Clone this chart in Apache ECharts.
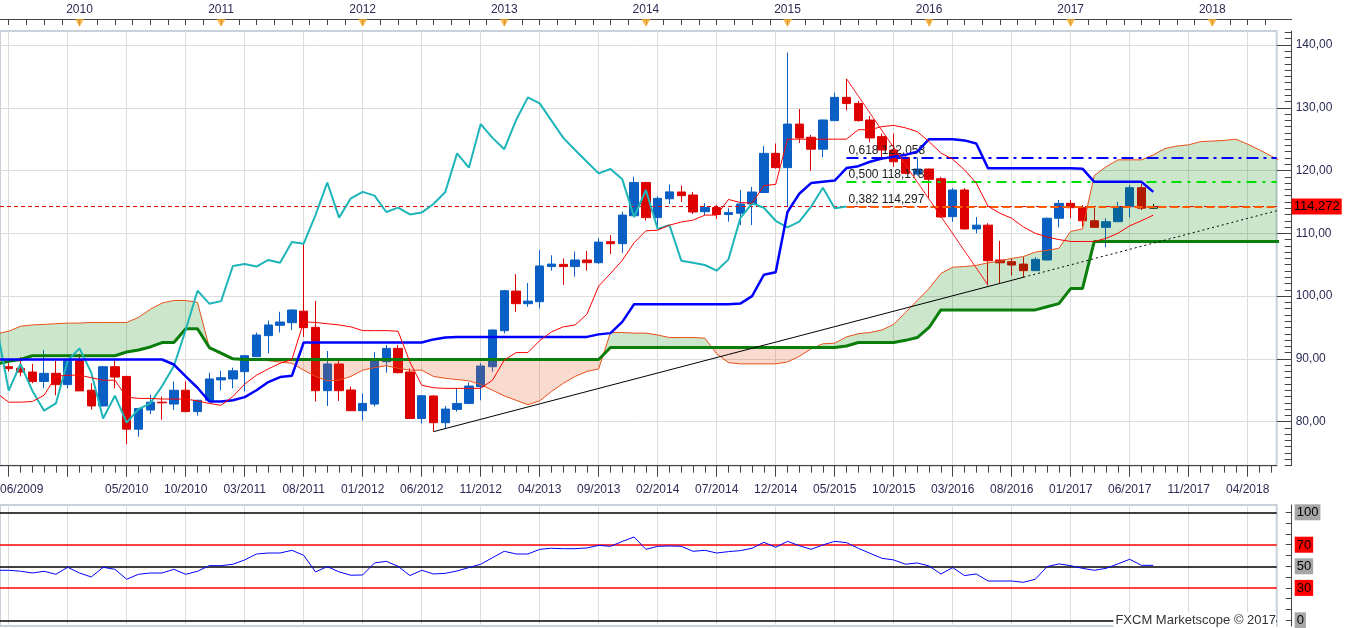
<!DOCTYPE html>
<html>
<head>
<meta charset="utf-8">
<script src="https://cdn.jsdelivr.net/npm/echarts@6/dist/echarts.min.js"></script>
<style>
html,body{margin:0;padding:0;background:#fff;}
#chart{width:1349px;height:628px;}
</style>
</head>
<body>
<div id="chart"></div>
<script>
// month index: 0 = 01/2009
var candleStart = 6; // 07/2009
var opens = [
    88.75, 88.5, 87.9, 86.4, 87.7, 85.9, 89.7, 85.0, 82.5, 88.75,
    87.2, 78.8, 81.85, 83.1, 82.8, 85.0, 81.6, 83.4, 86.65, 86.8,
    87.96, 90.35, 93.7, 95.34, 95.76, 97.6, 95.02, 84.93, 89.18, 85.04,
    81.74, 82.8, 89.55, 91.67, 87.9, 80.5, 84.08, 79.83, 81.95, 82.9,
    85.57, 88.75, 94.49, 100.8, 98.79, 99.1, 104.7, 105.05, 104.7, 105.75,
    105.32, 108.67, 108.35, 112.8, 118.1, 112.5, 115.5, 116.58, 116.1, 113.45,
    114.1, 113.0, 113.2, 114.67, 116.5, 122.74, 120.46, 127.4, 125.3, 123.4,
    127.95, 131.66, 130.7, 128.05, 125.4, 123.27, 122.1, 119.45, 120.24, 118.7,
    112.65, 116.9, 110.7, 111.3, 105.75, 105.48, 105.1, 104.05, 105.75, 112.4,
    114.77, 114.08, 112.0, 110.95, 111.85, 114.24, 117.27, 114.0
];
var closes = [
    88.45, 87.9, 86.4, 87.7, 85.9, 89.7, 84.9, 82.5, 88.75, 87.1,
    78.8, 82.1, 83.1, 83.0, 85.0, 81.6, 83.4, 86.8, 87.0, 88.1,
    90.5, 93.8, 95.4, 95.87, 97.78, 94.97, 84.93, 89.18, 84.93, 81.74,
    82.9, 89.71, 91.67, 87.8, 80.5, 84.13, 79.83, 82.0, 82.9, 85.67,
    88.86, 94.6, 100.86, 98.79, 99.2, 104.8, 105.1, 104.7, 105.75, 105.32,
    108.6, 108.35, 112.9, 118.1, 112.5, 115.57, 116.6, 116.0, 113.4, 114.1,
    113.0, 113.3, 114.67, 116.58, 122.74, 120.46, 127.4, 125.2, 123.4, 128.05,
    131.66, 130.7, 127.95, 125.2, 123.27, 121.4, 119.55, 120.24, 118.6, 112.6,
    116.9, 110.7, 111.3, 105.64, 105.3, 104.95, 104.05, 105.85, 112.4, 114.77,
    114.08, 112.0, 110.95, 111.85, 114.24, 117.27, 114.0, 114.27
];
var lows = [
    88.0, 87.2, 86.1, 85.3, 84.2, 85.3, 84.9, 81.9, 82.4, 85.3,
    76.4, 77.6, 81.2, 80.3, 81.85, 81.5, 80.95, 83.4, 85.0, 85.3,
    84.8, 90.3, 90.9, 94.2, 94.6, 93.5, 83.2, 82.5, 83.3, 81.7,
    80.15, 82.4, 87.8, 87.7, 80.5, 79.7, 78.4, 78.9, 81.6, 82.8,
    83.4, 87.96, 94.06, 97.5, 98.3, 98.05, 104.05, 101.8, 103.1, 104.05,
    105.1, 106.7, 106.9, 112.8, 112.0, 111.06, 114.67, 115.0, 113.08, 112.9,
    112.3, 111.85, 111.3, 111.3, 116.4, 120.3, 114.14, 124.4, 119.98, 122.1,
    127.9, 129.6, 127.8, 124.5, 121.9, 120.6, 119.4, 119.2, 115.6, 112.5,
    111.85, 110.6, 110.0, 101.7, 102.0, 103.25, 103.0, 104.0, 105.7, 110.95,
    112.4, 111.06, 110.9, 107.76, 111.8, 112.5, 113.7, 113.9
];
var highs = [
    89.3, 90.3, 89.2, 91.4, 89.7, 89.9, 90.8, 86.1, 88.9, 89.7,
    87.3, 82.2, 84.3, 84.0, 86.4, 86.4, 83.5, 87.8, 88.1, 88.6,
    90.6, 94.2, 96.1, 97.5, 97.9, 108.4, 99.2, 91.25, 89.7, 85.6,
    84.5, 91.1, 92.2, 92.2, 88.5, 84.2, 84.24, 82.5, 85.3, 86.25,
    89.3, 94.7, 101.0, 103.5, 102.1, 107.3, 106.5, 106.0, 107.1, 107.2,
    109.2, 109.7, 113.45, 119.0, 118.2, 115.9, 117.8, 117.6, 116.6, 114.8,
    114.5, 114.0, 116.9, 117.4, 123.9, 124.3, 138.8, 129.8, 125.66, 128.1,
    132.4, 134.6, 131.1, 128.7, 125.9, 125.9, 122.5, 122.1, 120.3, 119.0,
    117.2, 117.2, 112.6, 111.6, 108.8, 106.0, 106.2, 106.2, 112.5, 115.3,
    115.3, 114.5, 114.1, 112.4, 115.0, 117.7, 117.9, 114.7
];

var lineStart = 5; // 06/2009
var tenkan = [
    84.5, 83.1, 83.1, 83.2, 84.2, 87.2, 87.4, 87.4, 87.0, 86.6,
    86.6, 83.9, 83.7, 83.7, 83.6, 83.6, 83.6, 83.3, 82.9, 82.6,
    84.0, 86.0, 87.4, 88.4, 89.3, 89.9, 95.9, 95.8, 95.6, 95.4,
    95.1, 94.5, 94.5, 94.5, 94.4, 89.5, 85.8, 85.4, 85.3, 85.3,
    85.3, 85.3, 86.6, 89.8, 91.0, 91.0, 92.9, 94.3, 95.1, 95.4,
    97.1, 101.6, 103.6, 105.7, 108.5, 110.4, 110.5, 111.3, 111.8, 112.1,
    112.9, 112.9, 115.4, 114.9, 114.8, 117.6, 117.8, 125.0, 125.0, 125.0,
    125.0, 125.0, 125.0, 126.5, 126.5, 127.0, 127.2, 126.8, 126.2, 124.6,
    122.8, 121.8, 120.1, 118.0, 114.3, 113.2, 112.4, 111.0, 110.0, 109.4,
    109.0, 108.7, 108.7, 108.7, 109.2, 110.0, 111.2, 112.0, 112.9
];
var kijun = [
    89.9, 89.9, 89.9, 89.9, 89.9, 89.9, 89.9, 89.9, 89.9, 89.9,
    89.9, 89.9, 89.9, 89.9, 89.9, 89.1, 87.2, 85.4, 83.2, 83.2,
    83.4, 83.9, 85.0, 86.3, 87.1, 87.3, 92.6, 92.6, 92.6, 92.6,
    92.6, 92.6, 92.6, 92.6, 92.6, 92.6, 92.6, 93.1, 93.4, 93.5,
    93.5, 93.5, 93.5, 93.5, 93.5, 93.5, 93.5, 93.5, 93.5, 93.5,
    93.5, 93.9, 94.1, 95.9, 98.7, 98.7, 98.7, 98.7, 98.7, 98.7,
    98.7, 98.7, 98.7, 98.8, 100.0, 103.4, 103.8, 113.4, 116.3, 118.0,
    118.2, 118.4, 120.4, 120.7, 121.4, 121.9, 122.2, 122.5, 123.0, 125.0,
    125.0, 125.0, 124.8, 124.3, 120.35, 120.35, 120.35, 120.35, 120.35, 120.35,
    120.35, 120.35, 120.3, 118.2, 118.2, 118.2, 118.2, 118.2, 116.6
];
var chikou = [
    94.97, 84.93, 89.18, 84.93, 81.74, 82.9, 89.71, 91.67, 87.8, 80.5,
    84.13, 79.83, 82.0, 82.9, 85.67, 88.86, 94.6, 100.86, 98.79, 99.2,
    104.8, 105.1, 104.7, 105.75, 105.32, 108.6, 108.35, 112.9, 118.1, 112.5,
    115.57, 116.6, 116.0, 113.4, 114.1, 113.0, 113.3, 114.67, 116.58, 122.74,
    120.46, 127.4, 125.2, 123.4, 128.05, 131.66, 130.7, 127.95, 125.2, 123.27,
    121.4, 119.55, 120.24, 118.6, 112.6, 116.9, 110.7, 111.3, 105.64, 105.3,
    104.95, 104.05, 105.85, 112.4, 114.77, 114.08, 112.0, 110.95, 111.85, 114.24,
    117.27, 114.0, 114.27
];
var spanA = [
    94.0, 94.4, 95.2, 95.4, 95.5, 95.6, 95.7, 95.7, 95.8, 95.8,
    95.8, 95.8, 96.6, 97.9, 98.9, 99.3, 99.3, 99.0, 91.8, 90.7,
    89.9, 89.9, 89.9, 89.7, 89.5, 89.3, 88.2, 87.2, 86.5, 86.6,
    87.2, 88.2, 88.6, 88.9, 88.5, 88.2, 88.2, 87.2, 86.9, 86.7,
    86.5, 85.9, 85.0, 84.1, 83.4, 82.7, 83.3, 84.8, 86.1, 87.2,
    88.0, 88.4, 94.2, 94.2, 94.1, 94.1, 93.8, 93.4, 93.4, 93.4,
    93.3, 90.8, 89.4, 89.2, 89.2, 89.2, 89.2, 89.5, 90.4, 91.6,
    92.4, 92.5, 93.5, 94.0, 94.2, 94.6, 95.5, 97.4, 99.3, 101.2,
    103.6, 104.6, 104.7, 104.9, 105.3, 105.6, 106.0, 106.3, 107.0, 107.3,
    107.6, 110.3, 110.7, 119.2, 120.6, 121.7, 121.7, 121.7, 122.5, 123.5,
    123.9, 124.1, 124.6, 124.7, 124.8, 125.0, 124.2, 123.3, 122.3, 121.3
];
var spanB = [
    89.2, 89.6, 89.9, 90.5, 90.5, 90.5, 90.5, 90.5, 90.5, 90.5,
    90.5, 91.1, 91.4, 91.9, 92.6, 92.6, 94.8, 94.8, 91.8, 90.9,
    90.0, 89.9, 89.9, 89.9, 89.9, 89.9, 89.9, 89.9, 89.9, 89.9,
    89.9, 89.9, 89.9, 89.9, 89.9, 89.9, 89.9, 89.9, 89.9, 89.9,
    89.9, 89.9, 89.9, 89.9, 89.9, 89.9, 89.9, 89.9, 89.9, 89.9,
    89.9, 89.9, 91.8, 91.8, 91.8, 91.8, 91.8, 91.8, 91.8, 91.8,
    91.8, 91.8, 91.8, 91.8, 91.8, 91.8, 91.8, 91.8, 91.8, 91.8,
    91.8, 91.8, 92.05, 92.6, 92.6, 92.6, 92.6, 92.95, 93.4, 95.0,
    97.8, 97.8, 97.8, 97.8, 97.8, 97.8, 97.8, 97.8, 97.8, 98.3,
    98.8, 101.2, 101.2, 108.7, 108.7, 108.7, 108.7, 108.7, 108.7, 108.7,
    108.7, 108.7, 108.7, 108.7, 108.7, 108.7, 108.7, 108.7, 108.7, 108.7
];
var rsi = [
    46.3, 46.3, 45.5, 43.8, 45.4, 42.6, 49.1, 43.8, 40.1, 49.1,
    47.2, 38.0, 42.6, 43.8, 43.8, 47.2, 42.6, 45.4, 50.6, 50.6,
    51.9, 55.9, 61.4, 62.3, 62.3, 64.8, 60.2, 44.8, 49.7, 44.8,
    41.7, 42.0, 53.1, 54.6, 50.0, 41.4, 46.3, 42.9, 43.5, 45.7,
    48.8, 51.9, 58.0, 63.9, 61.4, 61.4, 65.7, 66.7, 66.3, 66.3,
    67.0, 69.4, 68.5, 73.0, 77.2, 65.7, 68.5, 68.8, 68.5, 63.9,
    64.8, 62.3, 63.6, 64.5, 66.7, 72.2, 67.6, 73.1, 69.1, 65.7,
    69.8, 73.1, 71.9, 66.7, 62.0, 57.4, 55.9, 51.9, 53.1, 50.3,
    42.9, 48.8, 41.4, 42.9, 36.4, 36.4, 36.4, 35.2, 38.0, 49.7,
    52.2, 50.6, 48.1, 46.3, 48.1, 52.2, 56.5, 50.9, 50.9
];

var trendSolid = [[42, 78.4], [92, 103.0]];
var trendDotted = [[92, 103.0], [113.46, 113.6]];
var fibSwing = [[77, 134.62], [89, 101.735]];
var fibLevels = ['0,618', '0,500', '0,382'];
var fibPrices = [122.058, 118.178, 114.297];
var lastPrice = 114.272;

var xLabels = ['06/2009', '05/2010', '10/2010', '03/2011', '08/2011', '01/2012', '06/2012',
    '11/2012', '04/2013', '09/2013', '02/2014', '07/2014', '12/2014', '05/2015', '10/2015',
    '03/2016', '08/2016', '01/2017', '06/2017', '11/2017', '04/2018'];
var yearLabels = ['2010', '2011', '2012', '2013', '2014', '2015', '2016', '2017', '2018'];
var priceTicks = [80, 90, 100, 110, 120, 130, 140];
var rsiTicks = [0, 30, 50, 70, 100];

var xMin = 5.263, xMax = 113.46;
var yMin = 72.98, yMax = 142.23;
var FONT = 'Liberation Sans';
var AX = '#444';
var LBL = '#2b2b55';

function monthOf(label) {
    var p = label.split('/');
    return (parseInt(p[1], 10) - 2009) * 12 + parseInt(p[0], 10) - 1;
}
function comma(v, d) { return v.toFixed(d).replace('.', ','); }

var labelVals = xLabels.map(monthOf);
labelVals[0] = xMin; // first label sits on the left edge
var gridMonths = [], monthTicks = [], topTicks = [], minorPrice = [], rsiMinor = [];
for (var m = 6; m <= xMax; m += 5) gridMonths.push(m);
for (var m2 = 6; m2 <= xMax; m2++) monthTicks.push(m2);
for (var m3 = 6; m3 <= xMax; m3 += 1.5) topTicks.push(m3);
for (var p = 73; p <= 142; p++) minorPrice.push(p);
for (var r = 0; r <= 100; r += 10) rsiMinor.push(r);
var yearVals = yearLabels.map(function (y) { return (parseInt(y, 10) - 2009) * 12; });

var candleData = opens.map(function (o, i) {
    var item = { value: [candleStart + i, o, closes[i], lows[i], highs[i]] };
    if (i === opens.length - 1) {
        item.itemStyle = { color: '#fff', color0: '#fff', borderColor: '#000', borderColor0: '#000' };
    }
    return item;
});

function pts(arr, start) {
    return arr.map(function (v, i) { return [start + i, v]; });
}
function line(arr, start, color, width, z, type) {
    return {
        type: 'line', data: pts(arr, start), showSymbol: false, symbol: 'none', silent: true,
        lineStyle: { color: color, width: width, type: type || 'solid' }, z: z
    };
}

// cloud regions between span A and span B, split where they cross
function cloudRegions() {
    var regions = [], top = [], bot = [], sgn = 0;
    for (var i = 0; i < spanA.length; i++) {
        var t = lineStart + i, a = spanA[i], b = spanB[i], d = a - b;
        var s = d > 0 ? 1 : (d < 0 ? -1 : 0);
        if (i > 0 && s !== 0 && sgn !== 0 && s !== sgn) {
            var pa = spanA[i - 1], pd = pa - spanB[i - 1];
            var f = pd / (pd - d);
            var c = [t - 1 + f, pa + f * (a - pa)];
            top.push(c); bot.push(c);
            regions.push({ sign: sgn, top: top, bot: bot });
            top = [c]; bot = [c];
        }
        top.push([t, a]); bot.push([t, b]);
        if (s !== 0) sgn = s;
    }
    regions.push({ sign: sgn, top: top, bot: bot });
    return regions;
}
var regions = cloudRegions();

var levelColors = { 0: '#000', 30: '#ff0000', 50: '#000', 70: '#ff0000', 100: '#000' };
var fibColors = ['#0000ff', '#00e000', '#ff5a00'];
var fibDash = [[12, 5, 3, 5], [10, 6, 3, 6], [8, 4]];

var option = {
    animation: false,
    backgroundColor: '#fff',
    textStyle: { fontFamily: FONT },
    grid: [
        { left: 0, right: 72.3, top: 31, height: 434.7, show: true, borderColor: '#c8d1da', borderWidth: 2, backgroundColor: 'transparent', outerBoundsMode: 'none' },
        { left: 0, right: 72.3, top: 505, height: 121, show: true, borderColor: '#c8d1da', borderWidth: 2, backgroundColor: 'transparent', outerBoundsMode: 'none' }
    ],
    xAxis: [
        {
            type: 'value', gridIndex: 0, min: xMin, max: xMax, position: 'bottom',
            axisLine: { onZero: false, lineStyle: { color: AX } },
            axisTick: { customValues: gridMonths, length: 11, lineStyle: { color: AX } },
            axisLabel: {
                customValues: labelVals, alignMinLabel: 'left', margin: 18, hideOverlap: false,
                color: LBL, fontSize: 12, fontFamily: FONT,
                formatter: function (v) {
                    for (var i = 0; i < labelVals.length; i++) {
                        if (Math.abs(labelVals[i] - v) < 1e-6) return xLabels[i];
                    }
                    return '';
                }
            },
            splitLine: { show: true, lineStyle: { color: '#dcdcdc', width: 1 } }
        },
        {
            type: 'value', gridIndex: 0, min: xMin, max: xMax, position: 'bottom',
            axisLine: { show: false, onZero: false },
            axisTick: { customValues: monthTicks, length: 7, lineStyle: { color: AX } },
            axisLabel: { show: false }, splitLine: { show: false }
        },
        {
            type: 'value', gridIndex: 0, min: xMin, max: xMax, position: 'top', offset: 12,
            axisLine: { onZero: false, lineStyle: { color: AX } },
            axisTick: { customValues: topTicks, inside: true, length: 6, lineStyle: { color: AX } },
            axisLabel: {
                customValues: yearVals, margin: 3, color: LBL, fontSize: 12, fontFamily: FONT,
                formatter: function (v) { return yearLabels[yearVals.indexOf(Math.round(v))] || ''; }
            },
            splitLine: { show: false }
        },
        {
            type: 'value', gridIndex: 1, min: xMin, max: xMax,
            axisLine: { show: false, onZero: false },
            axisTick: { show: false, customValues: gridMonths },
            axisLabel: { show: false },
            splitLine: { show: true, lineStyle: { color: '#dcdcdc', width: 1 } }
        }
    ],
    yAxis: [
        {
            type: 'value', gridIndex: 0, position: 'right', offset: 15, min: yMin, max: yMax,
            axisLine: { show: true, onZero: false, lineStyle: { color: AX } },
            axisTick: { customValues: priceTicks, inside: true, length: 15, lineStyle: { color: AX } },
            axisLabel: {
                customValues: priceTicks, margin: 4, color: LBL, fontSize: 12, fontFamily: FONT,
                formatter: function (v) { return comma(v, 2); }
            },
            splitLine: { show: true, lineStyle: { color: '#dcdcdc', width: 1 } }
        },
        {
            type: 'value', gridIndex: 0, position: 'right', offset: 15, min: yMin, max: yMax,
            axisLine: { show: false, onZero: false },
            axisTick: { customValues: minorPrice, inside: true, length: 7, lineStyle: { color: AX } },
            axisLabel: { show: false }, splitLine: { show: false }
        },
        {
            type: 'value', gridIndex: 1, position: 'right', offset: 15, min: -5.28, max: 106.76,
            axisLine: { show: true, onZero: false, lineStyle: { color: AX } },
            axisTick: { customValues: rsiMinor, inside: true, length: 6, lineStyle: { color: AX } },
            axisLabel: {
                customValues: rsiTicks, margin: 3,
                formatter: function (v) {
                    return '{' + (v === 30 || v === 70 ? 'r' : 'g') + '|' + v + '}';
                },
                rich: {
                    g: { backgroundColor: '#a6a6a6', color: '#000', fontSize: 13, fontFamily: FONT, padding: [2, 2, 1, 2] },
                    r: { backgroundColor: '#ff0000', color: '#000', fontSize: 13, fontFamily: FONT, padding: [2, 2, 1, 2] }
                }
            },
            splitLine: { show: false }
        }
    ],
    graphic: [
        {
            type: 'line', z: 50, silent: true,
            shape: { x1: 1276, y1: 19.5, x2: 1292, y2: 19.5 },
            style: { stroke: AX, lineWidth: 1 }
        },
        {
            type: 'text', x: 1276, y: 620, z: 100,
            style: {
                text: 'FXCM Marketscope © 2017', align: 'right', verticalAlign: 'middle',
                fill: '#333', font: '13px "Liberation Sans"', backgroundColor: '#fff', padding: [1, 0, 1, 2]
            }
        }
    ],
    series: [
        {
            type: 'candlestick', xAxisIndex: 0, yAxisIndex: 0, data: candleData, barWidth: 9, z: 2,
            itemStyle: { color: '#0a5fc4', color0: '#dd0000', borderColor: '#0a5fc4', borderColor0: '#dd0000', borderWidth: 1 },
            silent: true,
            markLine: {
                symbol: ['none', 'none'], silent: true, animation: false,
                data: [{
                    yAxis: lastPrice,
                    lineStyle: { color: '#e00000', type: [4, 3], width: 1 },
                    label: {
                        show: true, position: 'end', distance: 15, formatter: comma(lastPrice, 3),
                        backgroundColor: '#ff0000', color: '#000', fontSize: 13, fontFamily: FONT, padding: [2, 2, 1, 2]
                    }
                }]
            }
        },
        {
            type: 'custom', xAxisIndex: 0, yAxisIndex: 0, z: 3, silent: true, clip: true,
            data: [[10, 90]],
            renderItem: function (params, api) {
                var children = regions.map(function (rg) {
                    var poly = rg.top.map(function (q) { return api.coord(q); })
                        .concat(rg.bot.slice().reverse().map(function (q) { return api.coord(q); }));
                    return {
                        type: 'polygon', shape: { points: poly },
                        style: { fill: rg.sign >= 0 ? 'rgba(0,128,0,0.2)' : 'rgba(225,85,30,0.22)', stroke: null }
                    };
                });
                return { type: 'group', children: children };
            }
        },
        line(spanA, lineStart, '#e8501a', 1, 4),
        line(spanB, lineStart, '#0a7d0a', 3, 4),
        line(chikou, lineStart, '#1db5b8', 2, 5),
        line(kijun, lineStart, '#0000ff', 2.5, 6),
        line(tenkan, lineStart, '#ff0000', 1, 6),
        {
            type: 'line', data: trendSolid, showSymbol: false, symbol: 'none', silent: true, z: 6,
            lineStyle: { color: '#000', width: 1 }
        },
        {
            type: 'line', data: trendDotted, showSymbol: false, symbol: 'none', silent: true, z: 6,
            lineStyle: { color: '#000', width: 1, type: [2, 3] }
        },
        {
            type: 'line', data: fibSwing, showSymbol: false, symbol: 'none', silent: true, z: 6,
            lineStyle: { color: '#ff1a1a', width: 1 },
            markLine: {
                symbol: ['none', 'none'], silent: true, animation: false,
                data: fibPrices.map(function (fp, i) {
                    return [{
                        coord: [fibSwing[0][0], fp],
                        lineStyle: { color: fibColors[i], type: fibDash[i], width: 2 },
                        label: {
                            show: true, position: 'insideStartTop', distance: [2, 1],
                            formatter: fibLevels[i] + ' ' + comma(fp, 3),
                            color: '#222', fontSize: 12, fontFamily: FONT
                        }
                    }, { coord: [xMax, fp] }];
                })
            }
        },
        {
            type: 'scatter', xAxisIndex: 0, yAxisIndex: 0, clip: false, silent: true, z: 10,
            symbol: 'triangle', symbolRotate: 180, symbolSize: [9, 8],
            itemStyle: { color: '#f5a623' },
            data: yearVals.map(function (v) { return [v, 143.5]; })
        },
        {
            type: 'line', xAxisIndex: 3, yAxisIndex: 2, data: pts(rsi, lineStart),
            showSymbol: false, symbol: 'none', silent: true, z: 5,
            lineStyle: { color: '#0000ff', width: 1 },
            markLine: {
                symbol: ['none', 'none'], silent: true, animation: false, label: { show: false },
                data: rsiTicks.map(function (v) {
                    return { yAxis: v, lineStyle: { color: levelColors[v], type: 'solid', width: 1.5 } };
                })
            }
        }
    ]
};

var chart = echarts.init(document.getElementById('chart'));
chart.setOption(option);
</script>
</body>
</html>
